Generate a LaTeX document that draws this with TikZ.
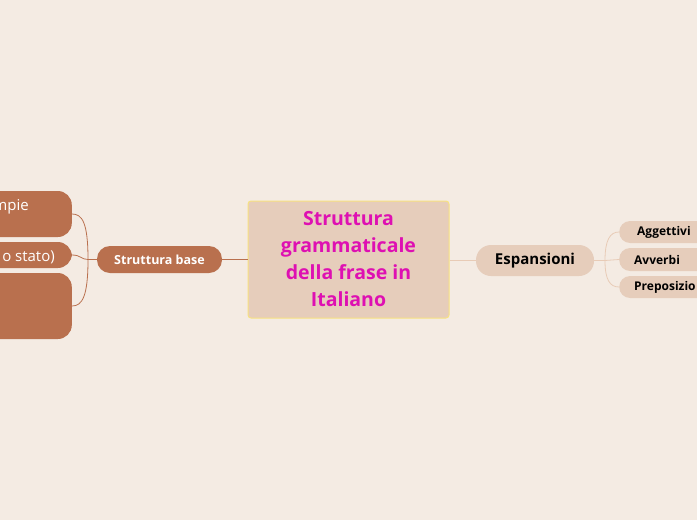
\documentclass[tikz,border=0pt]{standalone}
\usepackage{fontspec}
\setmainfont{Open Sans}
\definecolor{bgc}{RGB}{244,235,227}
\definecolor{cfill}{RGB}{230,205,187}
\definecolor{cborder}{RGB}{247,226,130}
\definecolor{brown}{RGB}{185,112,78}
\definecolor{magent}{RGB}{222,16,178}
\definecolor{lightline}{RGB}{232,203,182}
\tikzset{
  central/.style={draw=cborder, line width=1pt, fill=cfill, rounded corners=3pt,
    minimum width=201pt, minimum height=117pt, align=center, text=magent,
    font=\fontsize{19.5}{27}\selectfont\bfseries, inner sep=0pt},
  basebox/.style={fill=brown, rounded corners=13pt, minimum width=125pt, minimum height=27pt,
    text=white, font=\fontsize{12.5}{14}\selectfont\bfseries, inner sep=0pt},
  leftbox/.style={fill=brown, rounded corners=14pt, minimum width=160pt, inner sep=0pt},
  lefttext/.style={text=white, font=\fontsize{15}{17}\selectfont, inner sep=0pt},
  espbox/.style={fill=cfill, rounded corners=15pt, minimum width=118pt, minimum height=31pt,
    font=\fontsize{15}{17}\selectfont\bfseries, inner sep=0pt},
  rightbox/.style={fill=cfill, rounded corners=11pt, text width=86pt, align=left,
    inner xsep=15pt, inner ysep=0pt, font=\fontsize{12}{14}\selectfont\bfseries, anchor=west},
  darkcon/.style={draw=brown, line width=0.8pt},
  lightcon/.style={draw=lightline, line width=0.8pt},
}
\begin{document}
\begin{tikzpicture}[x=1pt,y=-1pt]
\fill[bgc] (0,0) rectangle (697,520);
\useasboundingbox (0,0) rectangle (697,520);

% central
\node[central] (c) at (348.5,259.5) {\rule{0pt}{3pt}Struttura\\grammaticale\\della frase in\\Italiano};

% left side
\node[basebox] (sb) at (159.5,259.5) {Struttura base};
\node[leftbox, minimum height=46pt, anchor=east] (l1) at (72,214) {};
\node[leftbox, minimum height=26pt, anchor=east] (l2) at (72,255) {};
\node[leftbox, minimum height=66pt, anchor=east] (l3) at (72,306) {};
\node[lefttext, anchor=base east] (t1) at (29,210) {mpie};
\node[lefttext, anchor=base east] (t2) at (55,261) {o stato)};

\coordinate (jl) at (88,259.5);
\draw[darkcon] (sb.west) -- (jl);
\draw[darkcon] (jl) .. controls (88,222) and (82,214) .. (l1.east);
\draw[darkcon] (jl) .. controls (81,259.5) and (81,255) .. (l2.east);
\draw[darkcon] (jl) .. controls (88,297) and (82,306) .. (l3.east);
\draw[darkcon] (sb.east) -- (c.west |- sb.east);

% right side
\node[espbox] (e) at (535,260.5) {Espansioni};
\draw[lightcon] (c.east |- e.west) -- (e.west);
\node[rightbox, minimum height=22pt] (r1) at (619,232) {\hspace*{3pt}Aggettivi};
\node[rightbox, minimum height=23pt] (r2) at (619,259.5) {Avverbi};
\node[rightbox, minimum height=22pt] (r3) at (619,287) {Preposizio};

\coordinate (jr) at (605,260.5);
\draw[lightcon] (e.east) -- (jr);
\draw[lightcon] (jr) .. controls (605,240) and (610,232) .. (r1.west);
\draw[lightcon] (jr) .. controls (612,260.5) and (612,259.5) .. (r2.west);
\draw[lightcon] (jr) .. controls (605,280) and (610,287) .. (r3.west);
\end{tikzpicture}
\end{document}
